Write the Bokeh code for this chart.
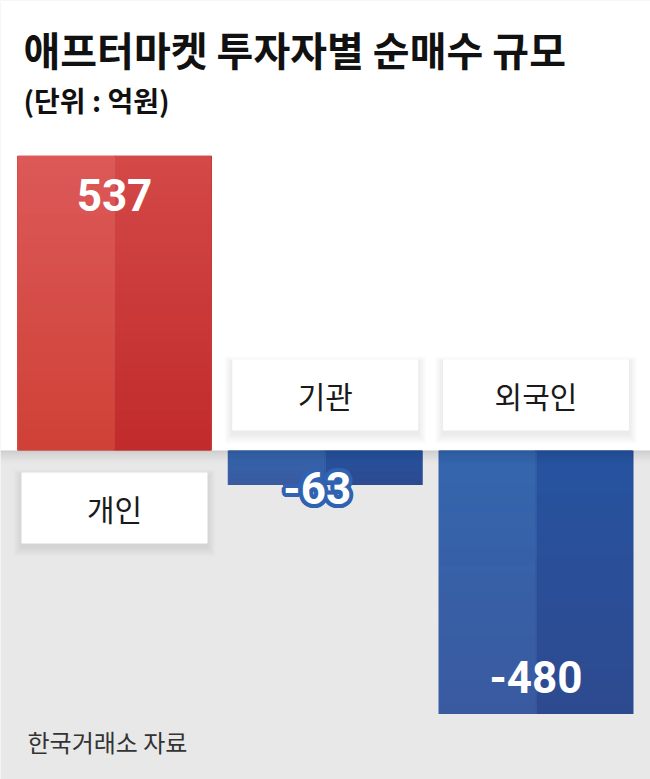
import math
from bokeh.plotting import figure
from bokeh.models import Range1d, Label
from bokeh.core.properties import value
from bokeh.embed import file_html
from bokeh.resources import INLINE

# ---- data ----
title_text = "애프터마켓 투자자별 순매수 규모"
subtitle_text = "(단위 : 억원)"
source_text = "한국거래소 자료"
categories = ["개인", "기관", "외국인"]
values = [537, -63, -480]
value_labels = ["537", "-63", "-480"]

# ---- layout constants (pixels within the figure) ----
W, H = 650, 779
XC0_PX = 114.0      # centre of first bar
SP = 210.75         # px per category unit
Y0_PX = 450.0       # zero line from top
K = 0.549           # px per value unit

def dx(px):
    return px / SP

def dy(px):
    return px / K

def X(pxx):
    return (pxx - XC0_PX) / SP

def Y(pxy):
    return (Y0_PX - pxy) / K

x0, x1 = X(0), X(W)
y0, y1 = Y(H), Y(0)

p = figure(width=W, height=H, output_backend="svg", toolbar_location=None,
           x_range=Range1d(x0, x1), y_range=Range1d(y0, y1),
           x_axis_location=None, y_axis_location=None, min_border=0)
p.grid.visible = False
p.outline_line_color = None
p.background_fill_color = "#e8e8e8"
p.border_fill_color = "white"

# white upper area
p.quad(left=[x0], right=[x1], bottom=[0], top=[y1], fill_color="white", line_color=None)


def hex2rgb(h):
    h = h.lstrip("#")
    return tuple(int(h[i:i + 2], 16) for i in (0, 2, 4))


def mix(c0, c1, t):
    a, b = hex2rgb(c0), hex2rgb(c1)
    return "#%02x%02x%02x" % tuple(int(round(a[i] + (b[i] - a[i]) * t)) for i in range(3))

# gradient colours: (left zero, left end, right zero, right end)
pos_cols = ("#cf4136", "#dc5959", "#c12b2b", "#d44848")
neg_cols = ("#3466ae", "#3a5aa0", "#2653a0", "#2e4a8f")

half = dx(195) / 2
N = 30
for i, v in enumerate(values):
    cols = pos_cols if v > 0 else neg_cols
    for side in (0, 1):
        l = i - half if side == 0 else i - dx(0.5)
        r = i if side == 0 else i + half
        c0, c1 = cols[2 * side], cols[2 * side + 1]
        # solid base so that the outer edges stay clean
        p.quad(left=[l], right=[r], bottom=[0], top=[v],
               fill_color=mix(c0, c1, 0.5), line_color=None)
        il = l + dx(1.2) if side == 0 else l
        ir = r if side == 0 else r - dx(1.2)
        bots, tops, fills = [], [], []
        for s in range(N):
            bots.append(v * s / N)
            tops.append(v * min((s + 1.7) / N, 1.0))
            fills.append(mix(c0, c1, (s + 0.5) / N))
        p.quad(left=[il] * N, right=[ir] * N, bottom=bots, top=tops,
               fill_color=fills, line_color=None)
    # faint light split line
    p.segment(x0=[i], y0=[0], x1=[i], y1=[v], line_color="white", line_alpha=0.1, line_width=1.2)

# soft shadow below the white area
for s in range(16):
    a = 0.12 * (1 - s / 16) ** 2
    p.quad(left=[x0], right=[x1], top=[-dy(s)], bottom=[-dy(s + 1)],
           fill_color="black", fill_alpha=a, line_color=None)

# category label boxes
bw, bh = 186, 71
for i, (c, v) in enumerate(zip(categories, values)):
    cy = -dy(57.5) if v > 0 else dy(55.5)
    for j in range(10, 0, -1):
        p.quad(left=[i - dx(bw / 2 + j * 0.8)], right=[i + dx(bw / 2 + j * 0.8)],
               bottom=[cy - dy(bh / 2 + j) - dy(3)], top=[cy + dy(bh / 2 + j * 0.6) - dy(3)],
               fill_color="black", fill_alpha=0.008, line_color=None)
    p.quad(left=[i - dx(bw / 2)], right=[i + dx(bw / 2)],
           bottom=[cy - dy(bh / 2)], top=[cy + dy(bh / 2)],
           fill_color="white", line_color=None)
    p.text(x=[i], y=[cy], text=[c], text_font=value("Noto Sans CJK KR"),
           text_font_size="30px", text_color="#1a1a1a", text_align="center",
           text_baseline="middle")

# value labels
for i, (v, t) in enumerate(zip(values, value_labels)):
    inside = abs(v) * K > 80
    if inside:
        yoff = 39 if v > 0 else -37
        p.text(x=[i], y=[v], text=[t], text_font=value("Roboto"), text_font_style="bold",
               text_font_size="44px", text_color="white", text_align="center",
               text_baseline="middle", y_offset=yoff)
    else:
        xo = -8
        for a in range(16):
            ang = 2 * math.pi * a / 16
            p.text(x=[i], y=[v], text=[t], text_font=value("Roboto"), text_font_style="bold",
                   text_font_size="44px", text_color="#2f62b0", text_align="center",
                   text_baseline="middle", x_offset=xo + 4 * math.cos(ang),
                   y_offset=3 + 4 * math.sin(ang))
        p.text(x=[i], y=[v], text=[t], text_font=value("Roboto"), text_font_style="bold",
               text_font_size="44px", text_color="white", text_align="center",
               text_baseline="middle", x_offset=xo, y_offset=3)

# titles and source
p.add_layout(Label(x=X(23), y=Y(48), text=title_text, text_font="Noto Sans CJK KR",
                   text_font_style="bold", text_font_size="40px", text_color="#111111",
                   text_baseline="middle"))
p.add_layout(Label(x=X(23), y=Y(99), text=subtitle_text, text_font="Noto Sans CJK KR",
                   text_font_style="bold", text_font_size="28px", text_color="#111111",
                   text_baseline="middle"))
p.add_layout(Label(x=X(27), y=Y(741), text=source_text, text_font="Noto Sans CJK KR",
                   text_font_size="24px", text_color="#333333", text_baseline="middle"))

open("out.html", "w").write(file_html(p, INLINE))
